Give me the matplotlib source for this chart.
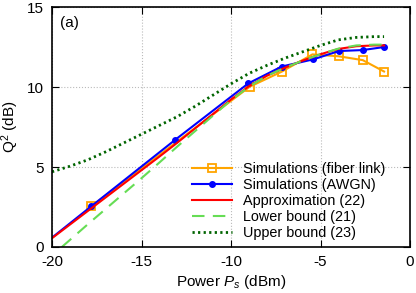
import numpy as np
import matplotlib
matplotlib.use("Agg")
import matplotlib.pyplot as plt

plt.rcParams['font.family'] = ['Liberation Sans', 'DejaVu Sans']
plt.rcParams['mathtext.fontset'] = 'custom'
plt.rcParams['mathtext.rm'] = 'Liberation Sans'
plt.rcParams['mathtext.it'] = 'Liberation Sans:italic'
plt.rcParams['axes.unicode_minus'] = False

# simulations, fiber link
fiber_x = [-17.8, -8.95, -7.15, -5.45, -3.97, -2.64, -1.45]
fiber_y = [2.55, 10.02, 10.97, 12.04, 11.92, 11.68, 10.97]

# simulations, AWGN (first point lies left of the plotted range)
awgn_x = [-22.0, -17.8, -13.13, -9.03, -7.17, -5.4, -3.97, -2.64, -1.45]
awgn_y = [-1.2, 2.55, 6.69, 10.23, 11.28, 11.73, 12.25, 12.31, 12.5]

# approximation (22)
approx_x = [-20, -18, -16, -15, -14, -13, -12, -11, -10, -9, -8, -7, -6, -5, -4, -3, -2, -1.45]
approx_y = [0.55, 2.25, 3.95, 4.8, 5.65, 6.52, 7.42, 8.32, 9.22, 10.05, 10.7, 11.2, 11.65, 12.05, 12.38, 12.55, 12.6, 12.6]

# lower bound (21)
lower_x = [-19.45, -18, -17, -16, -15, -14, -13, -12, -11, -10, -9, -8, -7, -6, -5, -4, -3, -2, -1.45]
lower_y = [0.0, 1.42, 2.38, 3.34, 4.3, 5.28, 6.28, 7.25, 8.22, 9.18, 10.02, 10.7, 11.2, 11.65, 12.05, 12.4, 12.6, 12.65, 12.65]

# upper bound (23)
upper_x = [-20, -19, -18, -17, -16, -15, -14, -13, -12, -11, -10, -9, -8, -7, -6, -5, -4, -3, -2, -1.45]
upper_y = [4.7, 5.05, 5.45, 5.95, 6.5, 7.05, 7.6, 8.15, 8.8, 9.5, 10.2, 10.85, 11.35, 11.8, 12.2, 12.6, 12.95, 13.1, 13.15, 13.15]

fig = plt.figure(figsize=(4.16, 2.93), dpi=100)
ax = fig.add_axes([0.125, 0.157, 0.8606, 0.819])

ax.plot(fiber_x, fiber_y, color='#FFA500', lw=1.5, marker='s', ms=6,
        mfc='none', mew=1.3, label='Simulations (fiber link)')
ax.plot(awgn_x, awgn_y, color='#0000FF', lw=1.5, marker='o', ms=4,
        label='Simulations (AWGN)')
ax.plot(approx_x, approx_y, color='#FF0000', lw=1.5, label='Approximation (22)')
ax.plot(lower_x, lower_y, color='#66DD55', lw=1.5, ls=(0, (6, 4)), label='Lower bound (21)')
ax.plot(upper_x, upper_y, color='#006400', lw=2, ls=(0, (0.8, 1.2)), label='Upper bound (23)')

ax.set_xlim(-20, 0)
ax.set_ylim(0, 15)
ax.set_xticks([-20, -15, -10, -5, 0])
ax.set_yticks([0, 5, 10, 15])
ax.grid(True, color='#BBBBBB', ls=':', lw=0.8)
ax.tick_params(direction='in', top=True, right=True, length=5, labelsize=11, pad=6)
for s in ax.spines.values():
    s.set_linewidth(1.2)

ax.set_xlabel('Power $P_s$ (dBm)', fontsize=11, labelpad=3)
ax.set_ylabel('Q$^2$ (dB)', fontsize=11, labelpad=4)
ax.text(0.022, 0.915, '(a)', transform=ax.transAxes, fontsize=11)

ax.legend(loc='lower right', bbox_to_anchor=(0.942, 0.012), frameon=False,
          fontsize=10.4, handlelength=2.8, labelspacing=0.14, borderaxespad=0,
          handletextpad=0.7, borderpad=0.3)

fig.savefig('out.png', dpi=100)
